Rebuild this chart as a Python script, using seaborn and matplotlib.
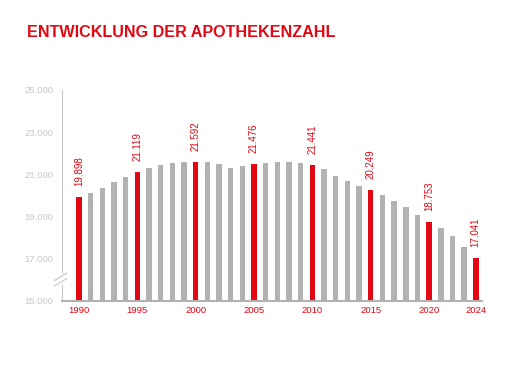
import matplotlib
matplotlib.use("Agg")
import matplotlib.pyplot as plt
import seaborn as sns
import pandas as pd
from matplotlib.lines import Line2D

# data: number of pharmacies in Germany
years = list(range(1990, 2025))
counts = [19898, 20107, 20352, 20648, 20886, 21119, 21289, 21457, 21556, 21590,
          21592, 21569, 21465, 21305, 21392, 21476, 21551, 21570, 21602, 21548,
          21441, 21238, 20921, 20662, 20441, 20249, 20023, 19748, 19423, 19075,
          18753, 18461, 18068, 17571, 17041]
highlight_years = [1990, 1995, 2000, 2005, 2010, 2015, 2020, 2024]
y_ticks = [15000, 17000, 19000, 21000, 23000, 25000]

RED = "#e30613"
GRAY = "#b2b2b2"
LIGHT = "#c6c6c6"

df = pd.DataFrame({"year": [str(y) for y in years], "count": counts})
bar_colors = [RED if y in highlight_years else GRAY for y in years]

sns.set_style("white")
plt.rcParams["font.family"] = ["Liberation Sans", "DejaVu Sans"]

fig = plt.figure(figsize=(5.08, 3.81), dpi=100)
ax = fig.add_axes([0.1215, 0.2108, 0.8268, 0.553])

sns.barplot(data=df, x="year", y="count", hue="year", palette=bar_colors,
            legend=False, width=0.47, saturation=1, linewidth=0, ax=ax)

ax.set_ylim(15000, 25000)
ax.set_xlim(-1.48, 34.51)
ax.set_yticks(y_ticks)
ax.set_yticklabels([f"{v:,}".replace(",", ".") for v in y_ticks], color=LIGHT, fontsize=6.8)

pos = [years.index(y) for y in highlight_years]
ax.set_xticks(pos)
ax.set_xticklabels([str(y) for y in highlight_years], color=RED, fontsize=6.8)
ax.tick_params(axis="x", length=0, pad=4)
ax.tick_params(axis="y", direction="in", length=3, color=LIGHT, width=0.8, pad=6)
ax.set_xlabel("")
ax.set_ylabel("")

for s in ["top", "right"]:
    ax.spines[s].set_visible(False)
ax.spines["left"].set_color(LIGHT)
ax.spines["left"].set_linewidth(0.8)
ax.spines["bottom"].set_color(GRAY)
ax.spines["bottom"].set_linewidth(1.5)

# value labels on highlighted bars
for y in highlight_years:
    i = years.index(y)
    v = counts[i]
    ax.annotate(f"{v:,}".replace(",", "."), (i, v), xytext=(0, 8), textcoords="offset points",
                rotation=90, ha="center", va="bottom", color=RED, fontsize=7)

# axis break marks around 16.000
trans = ax.get_yaxis_transform()
ax.plot([0, 0], [15850, 16250], color="white", lw=2, transform=trans, clip_on=False, zorder=5)
for dy in (-130, 130):
    ax.add_line(Line2D([-0.018, 0.012], [15820 + dy, 16180 + dy], color=LIGHT, lw=0.8,
                       transform=trans, clip_on=False, zorder=6))

fig.text(27 / 508, 1 - 36.7 / 381, "ENTWICKLUNG DER APOTHEKENZAHL", color=RED,
         fontsize=11.6, fontweight="bold", va="baseline", ha="left")

fig.savefig("out.png", dpi=100)
